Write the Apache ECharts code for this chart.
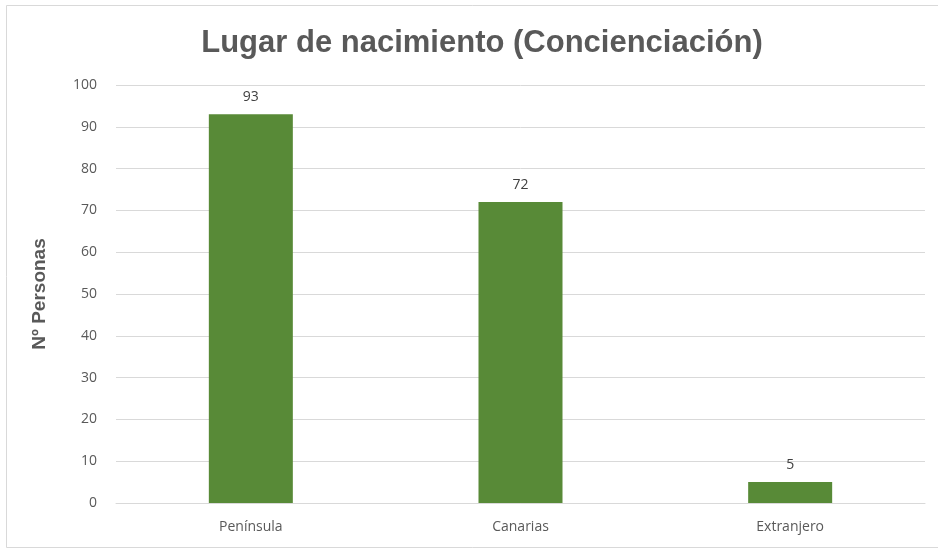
<!DOCTYPE html>
<html>
<head>
<meta charset="utf-8">
<script src="https://cdn.jsdelivr.net/npm/echarts@6/dist/echarts.min.js"></script>
<style>
  html, body { margin: 0; padding: 0; background: #fff; }
  #chart { width: 938px; height: 552px; }
</style>
</head>
<body>
<div id="chart"></div>
<script>
// Lugar de nacimiento de los participantes
const categories = ['Península', 'Canarias', 'Extranjero'];
const personas = [93, 72, 5];
const yTicks = { min: 0, max: 100, interval: 10 };

const chart = echarts.init(document.getElementById('chart'));
chart.setOption({
  animation: false,
  backgroundColor: '#ffffff',
  graphic: [{
    type: 'rect',
    shape: { x: 6.5, y: 5.5, width: 940, height: 542 },
    style: { fill: 'none', stroke: '#d9d9d9', lineWidth: 1 },
    silent: true
  }],
  title: {
    text: 'Lugar de nacimiento (Concienciación)',
    left: 477, top: 23, textAlign: 'center',
    textStyle: { fontFamily: 'Liberation Sans', fontWeight: 'bold', fontSize: 31, color: '#595959' }
  },
  grid: { left: 116, right: 13, top: 85, bottom: 49 },
  xAxis: {
    type: 'category',
    data: categories,
    axisLine: { lineStyle: { color: '#d9d9d9' } },
    axisTick: { show: false },
    axisLabel: { fontFamily: 'Open Sans', fontSize: 14, color: '#595959', margin: 17 }
  },
  yAxis: {
    type: 'value',
    min: yTicks.min, max: yTicks.max, interval: yTicks.interval,
    name: 'Nº Personas',
    nameLocation: 'middle',
    nameGap: 67,
    nameTextStyle: { fontFamily: 'Liberation Sans', fontWeight: 'bold', fontSize: 19, color: '#595959' },
    axisLine: { show: false },
    axisTick: { show: false },
    axisLabel: { fontFamily: 'Open Sans', fontSize: 14, color: '#595959', margin: 19 },
    splitLine: { lineStyle: { color: '#d9d9d9' } }
  },
  series: [{
    type: 'bar',
    data: personas,
    barWidth: 84,
    itemStyle: { color: '#588A37' },
    label: {
      show: true, position: 'top', distance: 10,
      fontFamily: 'Open Sans', fontSize: 14, color: '#404040'
    }
  }]
});
</script>
</body>
</html>
